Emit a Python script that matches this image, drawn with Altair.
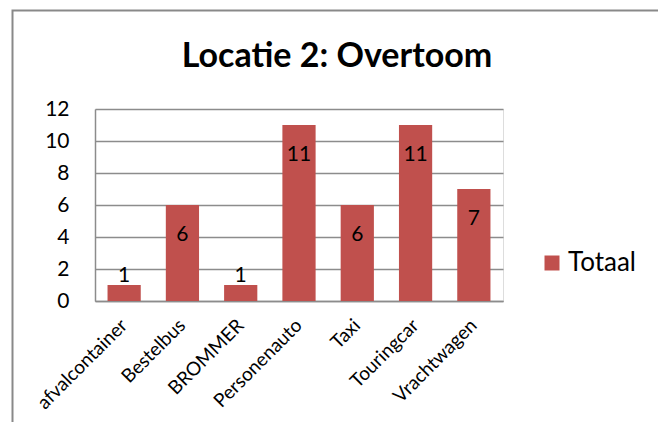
import altair as alt
import pandas as pd

categories = ["afvalcontainer", "Bestelbus", "BROMMER", "Personenauto", "Taxi", "Touringcar", "Vrachtwagen"]
values = [1, 6, 1, 11, 6, 11, 7]
series_name = "Totaal"
y_ticks = [0, 2, 4, 6, 8, 10, 12]

df = pd.DataFrame({"categorie": categories, "waarde": values, "reeks": [series_name] * len(categories)})

FONT = "Lato"
RED = "#C0504D"
GRAY = "#8C8C8C"

base = alt.Chart(df)

x_enc = alt.X("categorie:N", sort=categories,
              scale=alt.Scale(paddingInner=0.43, paddingOuter=0.215),
              axis=alt.Axis(title=None, labelAngle=-45, labelAlign="right", labelBaseline="middle",
                            labelFontSize=19, labelFont=FONT, labelColor="black", labelPadding=21,
                            labelOverlap=False, ticks=False, domainColor=GRAY, domainWidth=1.5, grid=False))
y_enc = alt.Y("waarde:Q", scale=alt.Scale(domain=[0, 12]),
              axis=alt.Axis(title=None, values=y_ticks, tickCount=7, labelFontSize=21, labelFont=FONT,
                            labelColor="black", labelPadding=26, ticks=False, labelOverlap=False,
                            domainColor=GRAY, domainWidth=1.5, gridColor=GRAY, gridWidth=1.5))

bars = base.mark_bar(stroke=None).encode(
    x=x_enc, y=y_enc,
    color=alt.Color("reeks:N", scale=alt.Scale(domain=[series_name], range=[RED]),
                    legend=alt.Legend(title=None, orient="none", legendX=444, legendY=141,
                                      symbolType="square", symbolSize=225, symbolStrokeWidth=0,
                                      labelFontSize=26, labelFont=FONT, labelColor="black",
                                      labelOffset=3, padding=0)),
)

labels_in = base.transform_filter("datum.waarde >= 2").mark_text(
    font=FONT, fontSize=21, color="black", baseline="middle", dy=30
).encode(x=x_enc, y=y_enc, text="waarde:Q")

labels_out = base.transform_filter("datum.waarde < 2").mark_text(
    font=FONT, fontSize=21, color="black", baseline="middle", dy=-9
).encode(x=x_enc, y=y_enc, text="waarde:Q")

frame = alt.Chart(pd.DataFrame({"k": [0]})).mark_rect(
    fill=None, stroke="#898989", strokeWidth=2
).encode(x=alt.value(-82.5), x2=alt.value(565.5), y=alt.value(-98.5), y2=alt.value(330))

chart = alt.layer(frame, bars, labels_in, labels_out).properties(
    width=408, height=192,
    title=alt.TitleParams("Locatie 2: Overtoom", font=FONT, fontSize=34, fontWeight="bold",
                          color="black", anchor="middle", dx=38, offset=-64),
    padding={"left": 87, "top": 101, "right": 155, "bottom": 121},
    autosize=alt.AutoSizeParams(type="none"),
).configure_view(stroke=None).configure(background="white")

chart.save("out.html", embed_options={"renderer": "svg", "actions": False})
